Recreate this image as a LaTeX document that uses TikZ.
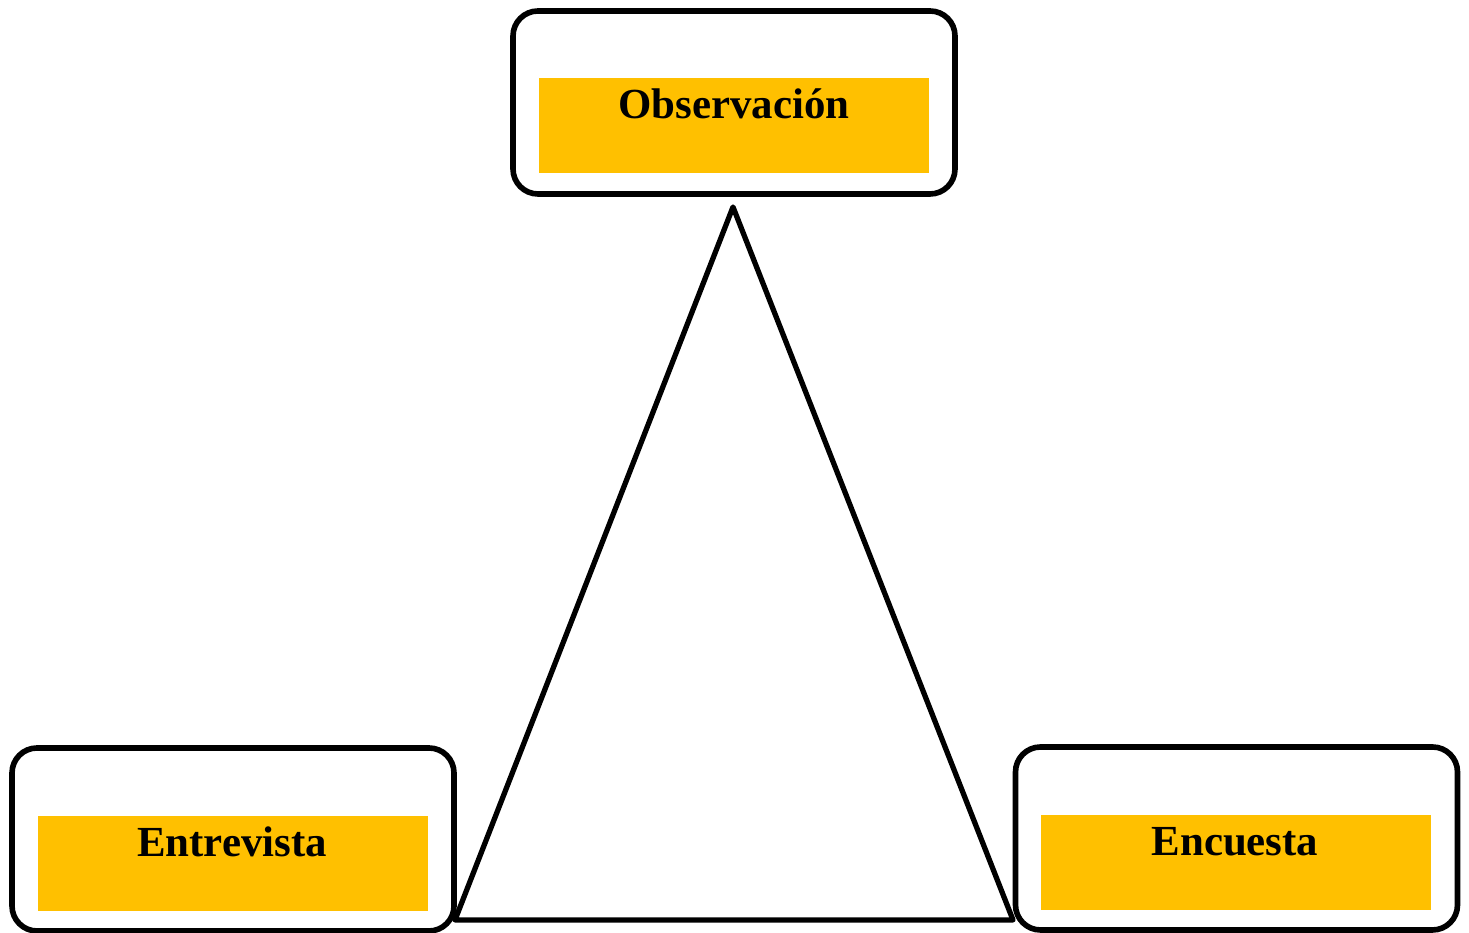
\documentclass[tikz,border=0pt]{standalone}
\usepackage{amsmath, tikz, tkz-euclide}
\usepackage{fontspec}
\setmainfont{Liberation Serif}
\definecolor{ambar}{HTML}{FFC000}

\begin{document}
\begin{tikzpicture}[
    marco/.style={draw, line width=1.6pt, rounded corners=0.25cm, minimum width=4.42cm, minimum height=1.83cm, inner sep=0pt},
    franja/.style={fill=ambar, minimum width=3.9cm, minimum height=0.95cm, inner sep=0pt},
    rotulo/.style={anchor=base, font=\fontsize{12.2}{14}\selectfont\bfseries}]
    \useasboundingbox (0,0) rectangle (14.69,9.33);
    \tkzDefPoints{7.33/7.26/O, 4.55/0.13/E, 10.13/0.13/N}
    \tkzDrawPolygon[line width=1.5pt](O,E,N)
    % cajas
    \node[marco] (obs) at (7.34,8.305) {};
    \node[franja] (fobs) at (7.34,8.075) {};
    \node[rotulo] (tobs) at (7.34,8.14) {Observación};
    \node[marco] (ent) at (2.33,0.935) {};
    \node[franja] (fent) at (2.33,0.695) {};
    \node[rotulo] (tent) at (2.32,0.76) {Entrevista};
    \node[marco] (enc) at (12.365,0.945) {};
    \node[franja] (fenc) at (12.36,0.705) {};
    \node[rotulo] (tenc) at (12.35,0.77) {Encuesta};
\end{tikzpicture}
\end{document}
